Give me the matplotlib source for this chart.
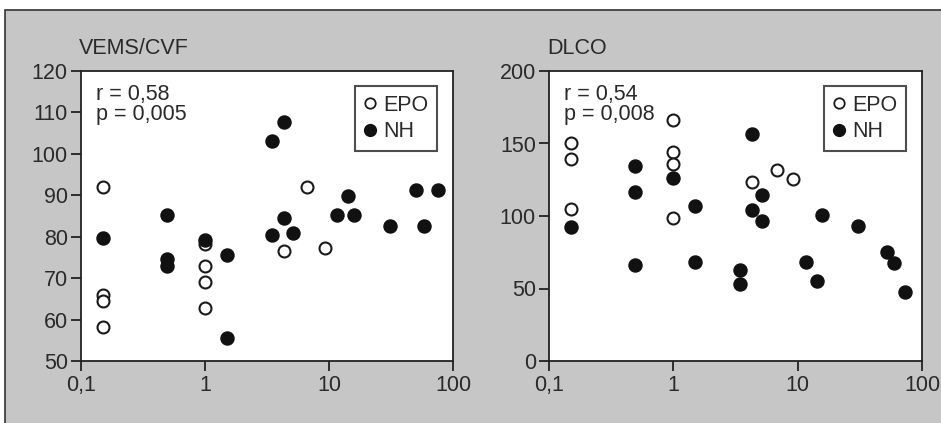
import matplotlib
matplotlib.use("Agg")
import matplotlib.pyplot as plt
from matplotlib.patches import Rectangle
from matplotlib.lines import Line2D

plt.rcParams['font.family'] = ['Liberation Sans', 'DejaVu Sans']

# VEMS/CVF panel
vems_epo_x = [0.15, 0.15, 0.15, 0.15, 1.0, 1.0, 1.0, 1.0, 6.7, 4.3, 9.2]
vems_epo_y = [92, 66, 64.5, 58.2, 78.3, 72.9, 69, 62.8, 92, 76.5, 77.3]
vems_nh_x = [0.15, 0.49, 0.49, 0.49, 1.0, 1.5, 1.5, 3.45, 4.3, 4.3, 3.45, 5.1,
             11.7, 14.1, 15.9, 31, 50, 58, 75]
vems_nh_y = [79.6, 85.2, 74.7, 73, 79.3, 75.6, 55.5, 103.1, 107.6, 84.5, 80.5, 80.9,
             85.2, 89.9, 85.2, 82.5, 91.2, 82.5, 91.2]

# DLCO panel
dlco_epo_x = [0.15, 0.15, 0.15, 1.0, 1.0, 1.0, 1.0, 4.3, 6.8, 9.2]
dlco_epo_y = [150.6, 139, 104.6, 166, 144.4, 135.6, 98.6, 123.7, 131.5, 125.3]
dlco_nh_x = [0.15, 0.49, 0.49, 0.49, 1.0, 1.5, 1.5, 3.45, 3.45, 4.3, 4.3, 5.15, 5.15,
             11.7, 14.2, 15.7, 30.8, 52.5, 59.4, 72.4]
dlco_nh_y = [92.4, 134.7, 116.3, 66.4, 126, 106.9, 68.5, 62.5, 53.3, 156.6, 103.9, 114.3, 96.8,
             68.5, 55.2, 100.7, 93.1, 75.4, 67.8, 47.8]

xticks = [0.1, 1, 10, 100]
xticklabels = ['0,1', '1', '10', '100']

txt = '#2a2a2a'
bg = '#c6c6c6'
fs = 15.5

fig = plt.figure(figsize=(9.41, 4.23), dpi=100)
fig.patch.set_facecolor('white')
fig.add_artist(Rectangle((5 / 941, -0.01), 1.0, 1 - 10 / 423 + 0.01, transform=fig.transFigure,
                         facecolor=bg, edgecolor='#333333', linewidth=1.2, zorder=0))


def panel(rect, title, ex, ey, nx, ny, ylim, yticks, stat):
    ax = fig.add_axes(rect)
    ax.set_facecolor('white')
    ax.plot(ex, ey, 'o', ms=8.6, mfc='white', mec='#1a1a1a', mew=1.5, ls='none', zorder=3)
    ax.plot(nx, ny, 'o', ms=9.4, mfc='#111111', mec='#111111', ls='none', zorder=3)
    ax.set_xscale('log')
    ax.set_xlim(0.1, 100)
    ax.set_ylim(*ylim)
    ax.set_xticks(xticks)
    ax.set_xticklabels(xticklabels)
    ax.minorticks_off()
    ax.set_yticks(yticks)
    for s in ax.spines.values():
        s.set_color('#222222')
        s.set_linewidth(1.3)
    ax.tick_params(direction='out', length=7, width=1.3, color='#222222',
                   labelsize=fs, labelcolor=txt, pad=3)
    ax.tick_params(axis='y', pad=2.5)
    ax.text(-0.005, 1.04, title, transform=ax.transAxes, fontsize=fs, color=txt,
            ha='left', va='bottom')
    ax.text(0.04, 0.955, stat, transform=ax.transAxes, fontsize=fs, color=txt,
            ha='left', va='top', linespacing=0.92)
    handles = [Line2D([], [], marker='o', ls='none', ms=7.5, mfc='white', mec='#1a1a1a', mew=1.3),
               Line2D([], [], marker='o', ls='none', ms=8.5, mfc='#111111', mec='#111111')]
    leg = ax.legend(handles, ['EPO', 'NH'], loc='upper right', bbox_to_anchor=(0.957, 0.948),
                    fontsize=fs, frameon=True, fancybox=False, handlelength=0.6,
                    handletextpad=0.3, borderpad=0.4, labelspacing=0.25, borderaxespad=0)
    leg.get_frame().set_edgecolor('#222222')
    leg.get_frame().set_linewidth(1.5)
    for t in leg.get_texts():
        t.set_color(txt)
    return ax


panel([81 / 941, 1 - 361 / 423, 372 / 941, 290 / 423], 'VEMS/CVF',
      vems_epo_x, vems_epo_y, vems_nh_x, vems_nh_y, (50, 120),
      [50, 60, 70, 80, 90, 100, 110, 120], 'r = 0,58\np = 0,005')
panel([549 / 941, 1 - 361 / 423, 373 / 941, 290 / 423], 'DLCO',
      dlco_epo_x, dlco_epo_y, dlco_nh_x, dlco_nh_y, (0, 200),
      [0, 50, 100, 150, 200], 'r = 0,54\np = 0,008')

fig.savefig('out.png', dpi=100, facecolor=fig.get_facecolor())
